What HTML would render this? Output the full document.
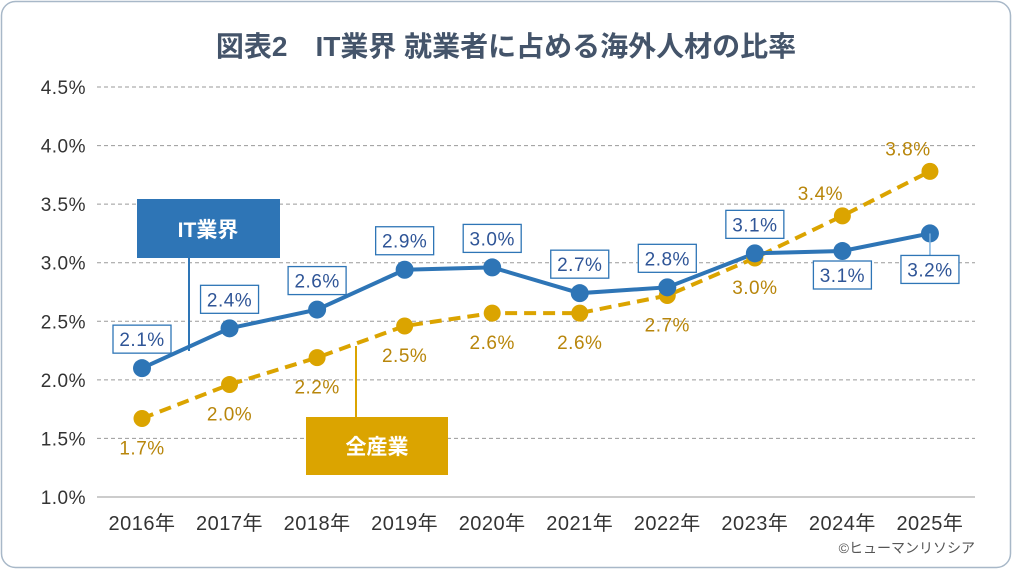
<!DOCTYPE html>
<html><head><meta charset="utf-8"><style>
html,body{margin:0;padding:0;background:#fff;}
#wrap{position:relative;width:1012px;height:569px;overflow:hidden;}
svg text{font-family:"Liberation Sans","Noto Sans CJK JP",sans-serif;}
</style></head><body>
<div id="wrap">
<svg id="chart" width="1012" height="569">
<rect x="1.5" y="1.5" width="1009" height="566" rx="14" fill="#fff" stroke="#a8b8c8" stroke-width="1.5"/>
<text x="506" y="56" text-anchor="middle" font-size="28" font-weight="bold" fill="#44546a">図表2　IT業界 就業者に占める海外人材の比率</text>
<text x="975" y="553" text-anchor="end" font-size="14" fill="#555">©ヒューマンリソシア</text>
<g id="grid"></g><g id="lines"></g><g id="labels"></g>
<rect x="137" y="199" width="143" height="59" fill="#2e75b6"/>
<text x="208" y="237" text-anchor="middle" font-size="21" font-weight="bold" fill="#fff">IT業界</text>
<line x1="189" y1="258" x2="189" y2="351" stroke="#2e75b6" stroke-width="2"/>
<rect x="306" y="417" width="142" height="58" fill="#dba400"/>
<text x="377" y="454" text-anchor="middle" font-size="21" font-weight="bold" fill="#fff">全産業</text>
<line x1="356" y1="346" x2="356" y2="417" stroke="#dba400" stroke-width="2"/>
</svg>
</div>
<script>
const years=["2016年","2017年","2018年","2019年","2020年","2021年","2022年","2023年","2024年","2025年"];
const itValues=[2.10,2.44,2.60,2.94,2.96,2.74,2.79,3.08,3.10,3.25];
const itLabels=["2.1%","2.4%","2.6%","2.9%","3.0%","2.7%","2.8%","3.1%","3.1%","3.2%"];
const allValues=[1.67,1.96,2.19,2.46,2.57,2.57,2.72,3.04,3.40,3.78];
const allLabels=["1.7%","2.0%","2.2%","2.5%","2.6%","2.6%","2.7%","3.0%","3.4%","3.8%"];
const yTicks=[1.0,1.5,2.0,2.5,3.0,3.5,4.0,4.5];
const yTickLabels=["1.0%","1.5%","2.0%","2.5%","3.0%","3.5%","4.0%","4.5%"];
const NS="http://www.w3.org/2000/svg";
const X=i=>142+i*87.55;
const Y=v=>497-(v-1.0)*117.14;
function mk(tag,attrs,parent){const e=document.createElementNS(NS,tag);for(const k in attrs)e.setAttribute(k,attrs[k]);parent.appendChild(e);return e;}
const grid=document.getElementById('grid'),lines=document.getElementById('lines'),labels=document.getElementById('labels');
yTicks.forEach((t,i)=>{
  const l=mk('line',{x1:97,x2:975,y1:Y(t),y2:Y(t),stroke:i===0?'#999':'#9a9a9a','stroke-width':1,'stroke-dasharray':i===0?'':'4 3'},grid);
  
  
  const tx=mk('text',{x:86,y:Y(t)+7,'text-anchor':'end','font-size':19,fill:'#333','letter-spacing':'0.5'},grid);
  tx.textContent=yTickLabels[i];
  
  
});
years.forEach((y,i)=>{
  const tx=mk('text',{x:X(i),y:530,'text-anchor':'middle','font-size':20,fill:'#333','letter-spacing':'0.5'},grid);
  tx.textContent=y;
  
  
});
const gold='#dba400',blue='#2e75b6';
const pa=mk('polyline',{points:allValues.map((v,i)=>X(i)+','+Y(v)).join(' '),fill:'none',stroke:gold,'stroke-width':4,'stroke-dasharray':'12 7'},lines);


const pi=mk('polyline',{points:itValues.map((v,i)=>X(i)+','+Y(v)).join(' '),fill:'none',stroke:blue,'stroke-width':4},lines);


allValues.forEach((v,i)=>{
  const c=mk('circle',{cx:X(i),cy:Y(v),r:8.5,fill:gold},lines);
  
  
  let lx=X(i),ly=Y(v)+36;
  if(i>=8){lx=X(i)-22;ly=Y(v)-16;}
  const t=mk('text',{x:lx,y:ly,'text-anchor':'middle','font-size':19,fill:'#b8860b','letter-spacing':'0.5'},labels);
  t.textContent=allLabels[i];
  
  
});
itValues.forEach((v,i)=>{
  const c=mk('circle',{cx:X(i),cy:Y(v),r:9,fill:blue},lines);
  
  
  const below=i>=8;
  const cy=below?Y(v)+(i===9?36:24):Y(v)-29;
  if(i===9){const ld=mk('line',{x1:X(i),y1:Y(v),x2:X(i),y2:cy-14,stroke:'#7fb3e0','stroke-width':1.5},labels);
    
    }
  const r=mk('rect',{x:X(i)-29,y:cy-14,width:58,height:28,fill:'#fff',stroke:blue,'stroke-width':1.3},labels);
  
  
  const t=mk('text',{x:X(i),y:cy+7,'text-anchor':'middle','font-size':19,fill:'#2f5597','letter-spacing':'0.5'},labels);
  t.textContent=itLabels[i];
  
  
});
</script>
</body></html>
